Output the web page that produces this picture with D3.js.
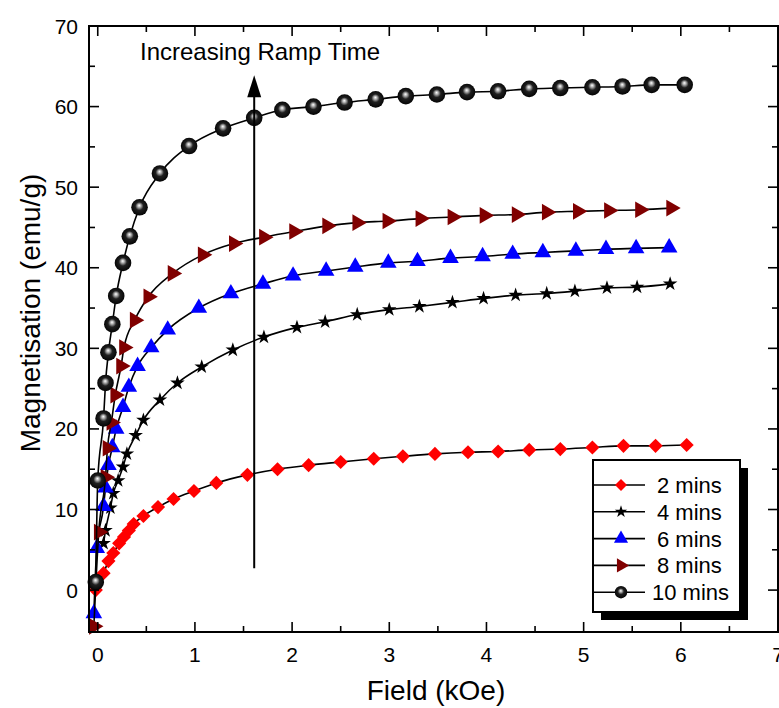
<!DOCTYPE html>
<html>
<head>
<meta charset="utf-8">
<script src="https://cdn.jsdelivr.net/npm/d3@7"></script>
<style>
  html, body { margin: 0; padding: 0; background: #fff; }
  svg { display: block; font-family: "Liberation Sans", Arial, sans-serif; }
</style>
</head>
<body>
<div id="chart"></div>
<script>
// field (kOe) and magnetisation (emu/g)
const field2 = [-0.02, 0.06, 0.11, 0.16, 0.22, 0.27, 0.32, 0.37, 0.47, 0.62, 0.78, 0.99, 1.22, 1.54, 1.85, 2.17, 2.50, 2.84, 3.14, 3.47, 3.81, 4.12, 4.44, 4.76, 5.09, 5.41, 5.74, 6.06];
const mag2   = [0.0, 2.1, 3.6, 4.6, 5.8, 6.6, 7.4, 8.2, 9.2, 10.3, 11.3, 12.3, 13.3, 14.3, 15.0, 15.5, 15.9, 16.3, 16.6, 16.9, 17.1, 17.2, 17.4, 17.5, 17.7, 17.9, 17.9, 18.0];

const field4 = [0.06, 0.08, 0.13, 0.16, 0.21, 0.26, 0.30, 0.39, 0.47, 0.64, 0.82, 1.07, 1.39, 1.71, 2.05, 2.34, 2.67, 3.00, 3.31, 3.65, 3.97, 4.30, 4.62, 4.91, 5.24, 5.55, 5.89];
const mag4   = [5.8, 7.4, 10.2, 12.0, 13.6, 15.3, 16.9, 19.2, 21.1, 23.6, 25.7, 27.7, 29.8, 31.4, 32.6, 33.3, 34.2, 34.8, 35.2, 35.7, 36.2, 36.6, 36.8, 37.1, 37.5, 37.6, 38.0];

const field6 = [-0.04, -0.01, 0.06, 0.08, 0.11, 0.15, 0.19, 0.26, 0.32, 0.41, 0.55, 0.72, 1.04, 1.37, 1.70, 2.01, 2.35, 2.65, 2.99, 3.29, 3.63, 3.96, 4.27, 4.58, 4.92, 5.23, 5.54, 5.88];
const mag6   = [-2.9, 5.2, 10.4, 12.7, 15.5, 17.7, 20.0, 22.7, 25.2, 27.8, 30.1, 32.3, 35.0, 36.8, 38.0, 39.0, 39.6, 40.1, 40.6, 40.8, 41.2, 41.4, 41.7, 41.9, 42.1, 42.3, 42.4, 42.5];

const field8 = [-0.04, 0.01, 0.08, 0.10, 0.14, 0.18, 0.24, 0.27, 0.38, 0.52, 0.77, 1.08, 1.40, 1.71, 2.02, 2.36, 2.67, 2.98, 3.32, 3.65, 3.98, 4.31, 4.62, 4.94, 5.26, 5.58, 5.90];
const mag8   = [-4.5, 7.2, 14.0, 17.6, 20.8, 24.2, 27.8, 30.1, 33.5, 36.4, 39.3, 41.6, 43.0, 43.8, 44.5, 45.2, 45.6, 45.8, 46.1, 46.3, 46.5, 46.6, 46.9, 47.0, 47.1, 47.2, 47.4];

const field10 = [-0.02, 0.00, 0.06, 0.08, 0.11, 0.15, 0.19, 0.26, 0.33, 0.43, 0.64, 0.94, 1.29, 1.61, 1.90, 2.22, 2.54, 2.86, 3.17, 3.49, 3.80, 4.12, 4.44, 4.76, 5.09, 5.40, 5.70, 6.04];
const mag10   = [1.0, 13.6, 21.3, 25.7, 29.5, 33.0, 36.5, 40.6, 43.9, 47.5, 51.7, 55.1, 57.3, 58.6, 59.6, 60.0, 60.5, 60.9, 61.3, 61.5, 61.8, 61.9, 62.2, 62.3, 62.4, 62.5, 62.7, 62.7];

const seriesNames = ["2 mins", "4 mins", "6 mins", "8 mins", "10 mins"];
const xTicks = [0, 1, 2, 3, 4, 5, 6, 7];
const yTicks = [0, 10, 20, 30, 40, 50, 60, 70];

// annotation arrow (field, start M, end M)
const arrowField = 1.61;
const arrowFrom = 2.7;
const arrowTo = 63.9;

const series = [
    { name: seriesNames[0], x: field2, y: mag2, shape: "diamond", fill: "#ff0000" },
    { name: seriesNames[1], x: field4, y: mag4, shape: "star", fill: "#000000" },
    { name: seriesNames[2], x: field6, y: mag6, shape: "triUp", fill: "#0000ff" },
    { name: seriesNames[3], x: field8, y: mag8, shape: "triRight", fill: "#800000" },
    { name: seriesNames[4], x: field10, y: mag10, shape: "sphere", fill: "url(#sphereGrad)" }
];

const W = 779, H = 708;
const margin = { top: 26, right: 1, bottom: 76, left: 89 };

const svg = d3.select("#chart").append("svg")
    .attr("width", W).attr("height", H);

const defs = svg.append("defs");
const grad = defs.append("radialGradient")
    .attr("id", "sphereGrad")
    .attr("cx", "50%").attr("cy", "50%").attr("r", "55%")
    .attr("fx", "48%").attr("fy", "38%");
grad.append("stop").attr("offset", "0%").attr("stop-color", "#ffffff");
grad.append("stop").attr("offset", "18%").attr("stop-color", "#b0b0b0");
grad.append("stop").attr("offset", "45%").attr("stop-color", "#202020");
grad.append("stop").attr("offset", "100%").attr("stop-color", "#000000");

const x = d3.scaleLinear().domain([-0.09, 7]).range([margin.left, W - margin.right]);
const y = d3.scaleLinear().domain([-5.2, 70]).range([H - margin.bottom, margin.top]);

const x0 = margin.left, x1 = W - margin.right;
const y0 = H - margin.bottom, y1 = margin.top;

// symbol generators
const sym = {
    diamond: (g, s) => g.append("path").attr("d", d3.symbol(d3.symbolSquare, 100 * s * s)()).attr("transform", "rotate(45)"),
    star: (g, s) => g.append("path").attr("d", d3.symbol(d3.symbolStar, 66 * s * s)()),
    triUp: (g, s) => g.append("path").attr("d", d3.symbol(d3.symbolTriangle, 120 * s * s)()),
    triRight: (g, s) => g.append("path").attr("d", d3.symbol(d3.symbolTriangle, 120 * s * s)()).attr("transform", "rotate(90)"),
    sphere: (g, s) => g.append("circle").attr("r", 8.3 * s)
};

const line = d3.line()
    .x(d => x(d[0]))
    .y(d => y(d[1]))
    .curve(d3.curveMonotoneX);

const plot = svg.append("g");

series.forEach(s => {
    const pts = s.x.map((v, i) => [v, s.y[i]]);
    plot.append("path")
        .datum(pts)
        .attr("d", line)
        .attr("fill", "none")
        .attr("stroke", "#000")
        .attr("stroke-width", 1.6);
    plot.append("g").selectAll("g")
        .data(pts)
        .join("g")
        .attr("transform", d => `translate(${x(d[0])},${y(d[1])})`)
        .each(function () {
            const m = sym[s.shape](d3.select(this), 1);
            m.attr("fill", s.fill);
        });
});

// arrow
plot.append("line")
    .attr("x1", x(arrowField)).attr("x2", x(arrowField))
    .attr("y1", y(arrowFrom)).attr("y2", y(arrowTo) + 18)
    .attr("stroke", "#000").attr("stroke-width", 2);
plot.append("path")
    .attr("d", `M${x(arrowField)},${y(arrowTo)} l-7,22 l14,0 z`)
    .attr("fill", "#000");

plot.append("text")
    .attr("x", 140).attr("y", 60)
    .attr("font-size", 24)
    .text("Increasing Ramp Time");

// frame & ticks
const axes = svg.append("g");
axes.append("rect")
    .attr("x", x0).attr("y", y1)
    .attr("width", x1 - x0).attr("height", y0 - y1)
    .attr("fill", "none").attr("stroke", "#000").attr("stroke-width", 2);

const xMinor = d3.range(0.5, 7, 1);
const yMinor = d3.range(5, 70, 10);

xTicks.concat(xMinor).forEach(v => {
    const len = Number.isInteger(v) ? 10 : 6;
    axes.append("line").attr("x1", x(v)).attr("x2", x(v)).attr("y1", y0).attr("y2", y0 - len)
        .attr("stroke", "#000").attr("stroke-width", 1.6);
    axes.append("line").attr("x1", x(v)).attr("x2", x(v)).attr("y1", y1).attr("y2", y1 + len)
        .attr("stroke", "#000").attr("stroke-width", 1.6);
});
yTicks.concat(yMinor).forEach(v => {
    const len = v % 10 === 0 ? 10 : 6;
    axes.append("line").attr("x1", x0).attr("x2", x0 + len).attr("y1", y(v)).attr("y2", y(v))
        .attr("stroke", "#000").attr("stroke-width", 1.6);
    axes.append("line").attr("x1", x1).attr("x2", x1 - len).attr("y1", y(v)).attr("y2", y(v))
        .attr("stroke", "#000").attr("stroke-width", 1.6);
});

axes.selectAll(".xl").data(xTicks).join("text")
    .attr("x", d => x(d)).attr("y", 662)
    .attr("text-anchor", "middle").attr("font-size", 21)
    .text(d => d);
axes.selectAll(".yl").data(yTicks).join("text")
    .attr("x", 78).attr("y", d => y(d) + 7.5)
    .attr("text-anchor", "end").attr("font-size", 21)
    .text(d => d);

svg.append("text")
    .attr("x", 436).attr("y", 700)
    .attr("text-anchor", "middle").attr("font-size", 28)
    .text("Field (kOe)");
svg.append("text")
    .attr("transform", "translate(40,313) rotate(-90)")
    .attr("text-anchor", "middle").attr("font-size", 28)
    .text("Magnetisation (emu/g)");

// legend with drop shadow
const lg = svg.append("g");
const lx = 593, ly = 460, lw = 147, lh = 152;
lg.append("rect").attr("x", lx + 8).attr("y", ly + 8).attr("width", lw).attr("height", lh).attr("fill", "#000");
lg.append("rect").attr("x", lx).attr("y", ly).attr("width", lw).attr("height", lh)
    .attr("fill", "#fff").attr("stroke", "#000").attr("stroke-width", 2);
series.forEach((s, i) => {
    const ry = ly + 25 + i * 26.8;
    lg.append("line").attr("x1", lx).attr("x2", lx + 52).attr("y1", ry).attr("y2", ry)
        .attr("stroke", "#000").attr("stroke-width", 1.6);
    const m = sym[s.shape](lg.append("g").attr("transform", `translate(${lx + 28},${ry})`), s.shape === "sphere" ? 0.75 : 0.85);
    m.attr("fill", s.fill);
    lg.append("text").attr("x", s.shape === "sphere" ? lx + 59 : lx + 64).attr("y", ry + 8)
        .attr("font-size", 22).text(s.name);
});
</script>
</body>
</html>
